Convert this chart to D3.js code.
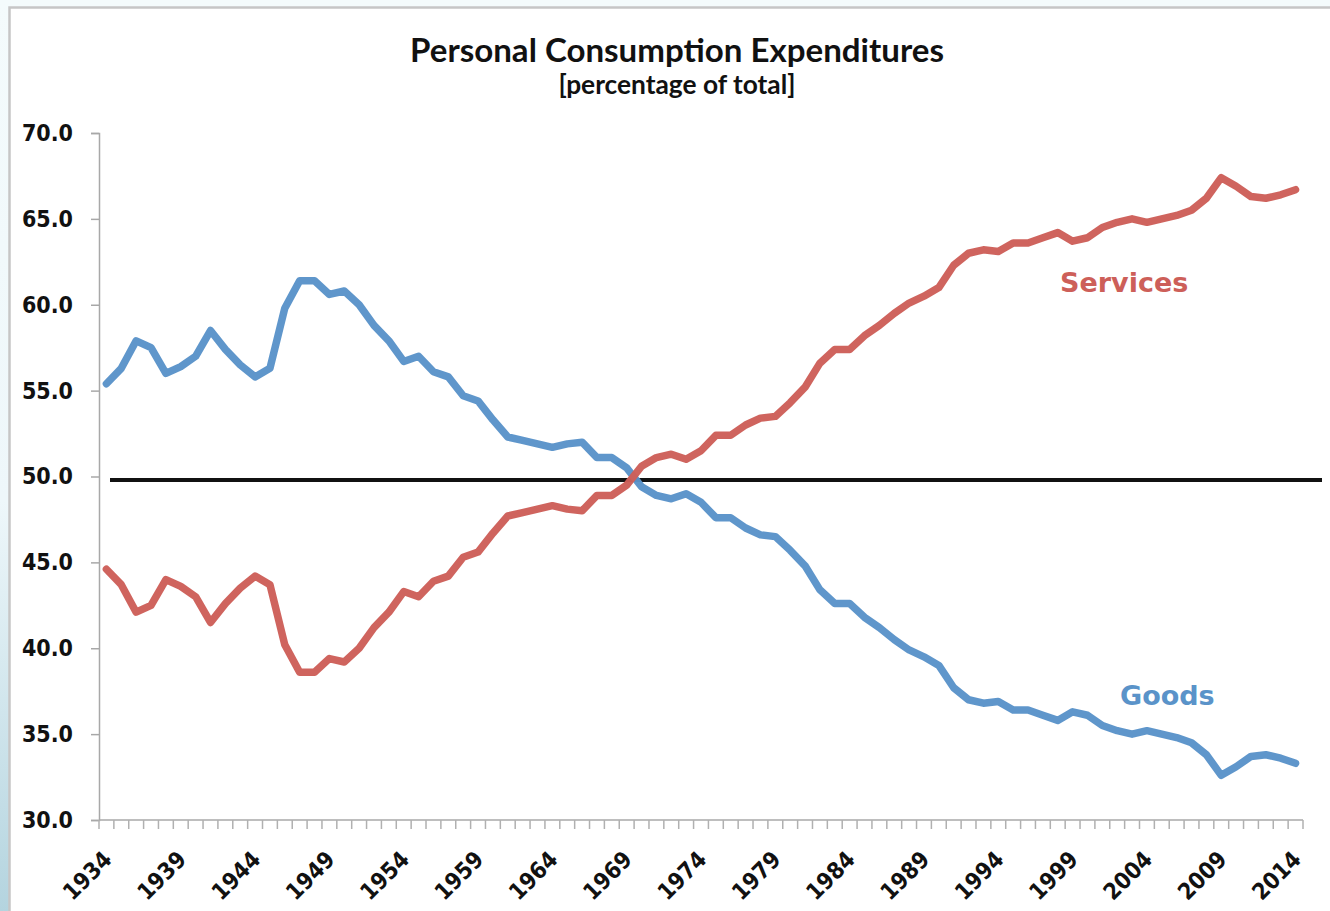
<!DOCTYPE html>
<html>
<head>
<meta charset="utf-8">
<script src="https://cdn.jsdelivr.net/npm/d3@7"></script>
<style>
  html, body { margin: 0; padding: 0; background: #f4fbfc; }
  svg { display: block; }
</style>
</head>
<body>
<svg id="chart" width="1330" height="911"></svg>
<script>
// ── Data ────────────────────────────────────────────────────────────────
const years = d3.range(1934, 2015);            // 1934 … 2014
const tickYears = [1934, 1939, 1944, 1949, 1954, 1959, 1964, 1969, 1974, 1979,
                   1984, 1989, 1994, 1999, 2004, 2009, 2014];
const yTicks = [30, 35, 40, 45, 50, 55, 60, 65, 70];

const goods = [
  55.4, 56.3, 57.9, 57.5, 56.0, 56.4, 57.0, 58.5, 57.4, 56.5,   // 1934-43
  55.8, 56.3, 59.8, 61.4, 61.4, 60.6, 60.8, 60.0, 58.8, 57.9,   // 1944-53
  56.7, 57.0, 56.1, 55.8, 54.7, 54.4, 53.3, 52.3, 52.1, 51.9,   // 1954-63
  51.7, 51.9, 52.0, 51.1, 51.1, 50.5, 49.4, 48.9, 48.7, 49.0,   // 1964-73
  48.5, 47.6, 47.6, 47.0, 46.6, 46.5, 45.7, 44.8, 43.4, 42.6,   // 1974-83
  42.6, 41.8, 41.2, 40.5, 39.9, 39.5, 39.0, 37.7, 37.0, 36.8,   // 1984-93
  36.9, 36.4, 36.4, 36.1, 35.8, 36.3, 36.1, 35.5, 35.2, 35.0,   // 1994-2003
  35.2, 35.0, 34.8, 34.5, 33.8, 32.6, 33.1, 33.7, 33.8, 33.6,   // 2004-13
  33.3                                                          // 2014
];
const services = [
  44.6, 43.7, 42.1, 42.5, 44.0, 43.6, 43.0, 41.5, 42.6, 43.5,
  44.2, 43.7, 40.2, 38.6, 38.6, 39.4, 39.2, 40.0, 41.2, 42.1,
  43.3, 43.0, 43.9, 44.2, 45.3, 45.6, 46.7, 47.7, 47.9, 48.1,
  48.3, 48.1, 48.0, 48.9, 48.9, 49.5, 50.6, 51.1, 51.3, 51.0,
  51.5, 52.4, 52.4, 53.0, 53.4, 53.5, 54.3, 55.2, 56.6, 57.4,
  57.4, 58.2, 58.8, 59.5, 60.1, 60.5, 61.0, 62.3, 63.0, 63.2,
  63.1, 63.6, 63.6, 63.9, 64.2, 63.7, 63.9, 64.5, 64.8, 65.0,
  64.8, 65.0, 65.2, 65.5, 66.2, 67.4, 66.9, 66.3, 66.2, 66.4,
  66.7
];
const refValue = 49.8;   // the drawn 50% divider line

// ── Layout ──────────────────────────────────────────────────────────────
const plot = { left: 99, right: 1303, top: 133, bottom: 820 };
const BLUE = '#5a93c9', RED = '#cd5f59';
const numFont = '"DejaVu Sans Condensed", "DejaVu Sans", sans-serif';
const titleFont = 'Lato, "Open Sans", sans-serif';

const svg = d3.select('#chart');

// background: frame + left gradient strip
const defs = svg.append('defs');
const grad = defs.append('linearGradient').attr('id', 'edge')
  .attr('x1', 0).attr('y1', 0).attr('x2', 0).attr('y2', 1);
grad.append('stop').attr('offset', '0%').attr('stop-color', '#f4fbfc');
grad.append('stop').attr('offset', '55%').attr('stop-color', '#eef7fa');
grad.append('stop').attr('offset', '100%').attr('stop-color', '#b4d4df');
svg.append('rect').attr('x', 0).attr('y', 0).attr('width', 9).attr('height', 911)
  .attr('fill', 'url(#edge)');
svg.append('rect').attr('x', 9.5).attr('y', 7.5).attr('width', 1340).attr('height', 920)
  .attr('fill', '#fff').attr('stroke', '#c6c6c6').attr('stroke-width', 2.5);

// ── Scales ──────────────────────────────────────────────────────────────
const x = d3.scaleBand().domain(years).range([plot.left, plot.right]);
const xc = yr => x(yr) + x.bandwidth() / 2;
const y = d3.scaleLinear().domain([30, 70]).range([plot.bottom, plot.top]);

// ── Title ───────────────────────────────────────────────────────────────
function fitText(sel, target) {
  const len = sel.node().getComputedTextLength();
  const fs = parseFloat(sel.attr('font-size'));
  sel.attr('font-size', fs * target / len);
}
const title = svg.append('text').attr('x', 677).attr('y', 62)
  .attr('text-anchor', 'middle').attr('font-family', titleFont)
  .attr('font-weight', 700).attr('font-size', 28).attr('fill', '#111')
  .text('Personal Consumption Expenditures');
fitText(title, 534);
const sub = svg.append('text').attr('x', 677).attr('y', 94)
  .attr('text-anchor', 'middle').attr('font-family', titleFont)
  .attr('font-weight', 700).attr('font-size', 20).attr('fill', '#111')
  .text('[percentage of total]');
fitText(sub, 237);

// ── Axes ────────────────────────────────────────────────────────────────
const yAxis = svg.append('g').attr('transform', `translate(${plot.left},0)`)
  .call(d3.axisLeft(y).tickValues(yTicks).tickSize(8).tickPadding(18)
    .tickFormat(d3.format('.1f')));
yAxis.select('.domain').attr('stroke', '#a8a8a8').attr('stroke-width', 1.5);
yAxis.selectAll('.tick line').attr('stroke', '#a8a8a8').attr('stroke-width', 1.5);
yAxis.selectAll('.tick text').attr('font-family', numFont).attr('font-weight', 700)
  .attr('font-size', 23).attr('fill', '#111');

// x axis: baseline + a tick at every category boundary
const xAxis = svg.append('g');
xAxis.append('line').attr('x1', plot.left).attr('x2', plot.right)
  .attr('y1', plot.bottom).attr('y2', plot.bottom)
  .attr('stroke', '#a8a8a8').attr('stroke-width', 1.5);
xAxis.selectAll('line.tk').data(years.concat([null])).join('line').attr('class', 'tk')
  .attr('x1', d => d === null ? plot.right : x(d))
  .attr('x2', d => d === null ? plot.right : x(d))
  .attr('y1', plot.bottom).attr('y2', plot.bottom + 9)
  .attr('stroke', '#b0b0b0').attr('stroke-width', 1.5);
xAxis.selectAll('text').data(tickYears).join('text')
  .attr('transform', d => `translate(${xc(d) + 1},855) rotate(-45)`)
  .attr('text-anchor', 'end').attr('dy', '0.36em')
  .attr('font-family', numFont).attr('font-weight', 700).attr('font-size', 23)
  .attr('fill', '#111').text(d => d);

// ── 50% divider ─────────────────────────────────────────────────────────
svg.append('line').attr('x1', 110).attr('x2', 1322)
  .attr('y1', y(refValue)).attr('y2', y(refValue))
  .attr('stroke', '#111').attr('stroke-width', 4);

// ── Series ──────────────────────────────────────────────────────────────
const line = d3.line().x((d, i) => xc(years[i])).y(d => y(d));
[[goods, BLUE], [services, RED]].forEach(([vals, col]) => {
  svg.append('path').datum(vals).attr('d', line)
    .attr('fill', 'none').attr('stroke', col).attr('stroke-width', 7.5)
    .attr('stroke-linejoin', 'round').attr('stroke-linecap', 'round')
    .attr('opacity', 0.97);
});

// ── Series labels ───────────────────────────────────────────────────────
svg.append('text').attr('x', 1060).attr('y', 292)
  .attr('font-family', '"DejaVu Sans", sans-serif').attr('font-weight', 700)
  .attr('font-size', 27).attr('fill', RED).text('Services');
svg.append('text').attr('x', 1120).attr('y', 705)
  .attr('font-family', '"DejaVu Sans", sans-serif').attr('font-weight', 700)
  .attr('font-size', 27).attr('fill', BLUE).text('Goods');
</script>
</body>
</html>
